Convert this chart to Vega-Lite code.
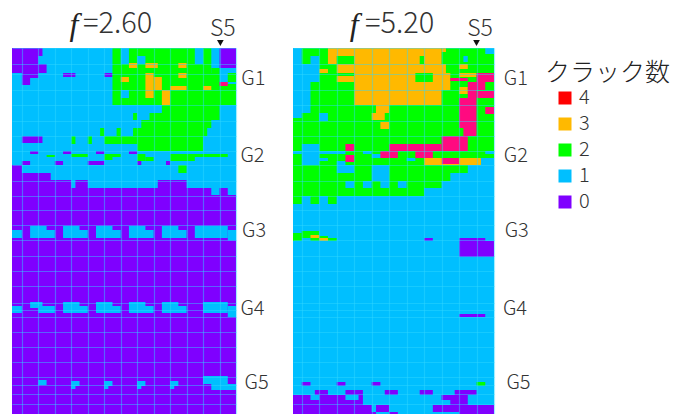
{"$schema":"https://vega.github.io/schema/vega-lite/v6.json","padding":{"left":12,"top":9,"right":0,"bottom":0},"autosize":{"type":"pad"},"background":"white","spacing":57,"bounds":"flush",
"config":{"view":{"stroke":null},"font":"Noto Sans CJK JP"},
"datasets":{
"L":[
{"c":-0.2,"e":27,"t":0,"b":368,"k":1},
{"c":-0.2,"e":27,"t":147,"b":368,"k":0},{"c":-0.2,"e":24,"t":140,"b":147,"k":0},{"c":25,"e":26,"t":140,"b":147,"k":0},{"c":-0.2,"e":7,"t":132,"b":140,"k":0},{"c":7.5,"e":9,"t":132,"b":140,"k":0},{"c":17.5,"e":21,"t":132,"b":140,"k":0},{"c":-0.2,"e":4.5,"t":125,"b":132,"k":0},{"c":-0.2,"e":1,"t":117,"b":125,"k":0},
{"c":-0.2,"e":3.5,"t":0,"b":8,"k":0},{"c":-0.2,"e":3,"t":8,"b":16,"k":0},{"c":-0.2,"e":4,"t":16,"b":25,"k":0},{"c":1,"e":3,"t":25,"b":30,"k":0},{"c":1,"e":2,"t":30,"b":37,"k":0},{"c":6,"e":7.5,"t":25,"b":29,"k":0},{"c":11,"e":12,"t":25,"b":29,"k":0},{"c":25,"e":27,"t":0,"b":20,"k":0},
{"c":1,"e":3.5,"t":88,"b":95,"k":0},{"c":2,"e":3,"t":103,"b":106,"k":0},{"c":6,"e":7,"t":103,"b":106,"k":0},{"c":10,"e":11,"t":103,"b":106,"k":0},{"c":14,"e":15,"t":103,"b":106,"k":0},{"c":1,"e":2,"t":113,"b":117,"k":0},{"c":5,"e":6,"t":113,"b":117,"k":0},{"c":9,"e":11,"t":113,"b":117,"k":0},{"c":15,"e":15.5,"t":113,"b":117,"k":0},{"c":18.5,"e":19,"t":113,"b":117,"k":0},
{"c":12,"e":13,"t":0,"b":16,"k":2},{"c":14,"e":22,"t":0,"b":8,"k":2},{"c":23,"e":24,"t":0,"b":16,"k":2},{"c":14,"e":15,"t":8,"b":16,"k":2},{"c":16,"e":22,"t":8,"b":16,"k":2},{"c":12,"e":24,"t":16,"b":25,"k":2},{"c":24,"e":25,"t":20,"b":25,"k":2},{"c":12,"e":25,"t":25,"b":42,"k":2},{"c":26,"e":27,"t":25,"b":34,"k":2},{"c":25,"e":27,"t":36,"b":42,"k":2},{"c":12,"e":13,"t":42,"b":57,"k":2},{"c":14,"e":27,"t":42,"b":57,"k":2},{"c":13,"e":14,"t":50,"b":57,"k":2},
{"c":18,"e":25,"t":57,"b":65,"k":2},{"c":16.5,"e":25,"t":65,"b":72,"k":2},{"c":14.5,"e":15,"t":65,"b":72,"k":2},{"c":15.5,"e":24,"t":72,"b":80,"k":2},{"c":14.5,"e":23.5,"t":80,"b":88,"k":2},{"c":10.5,"e":11,"t":80,"b":88,"k":2},{"c":12.5,"e":13,"t":80,"b":88,"k":2},{"c":11,"e":23,"t":88,"b":96,"k":2},{"c":15,"e":23,"t":96,"b":103,"k":2},{"c":7,"e":7.5,"t":88,"b":96,"k":2},{"c":9,"e":9.5,"t":88,"b":96,"k":2},
{"c":7,"e":9,"t":106,"b":109,"k":2},{"c":4,"e":5,"t":107,"b":109,"k":2},{"c":11,"e":13,"t":106,"b":109,"k":2},{"c":11,"e":12,"t":109,"b":112,"k":2},{"c":15,"e":16,"t":106,"b":113,"k":2},{"c":16,"e":17,"t":109,"b":113,"k":2},{"c":19,"e":26,"t":106,"b":109,"k":2},{"c":19,"e":22,"t":109,"b":113,"k":2},{"c":20,"e":21,"t":117,"b":125,"k":2},
{"c":14,"e":15,"t":15,"b":20,"k":3},{"c":16,"e":17.5,"t":15,"b":20,"k":3},{"c":20,"e":21,"t":15,"b":20,"k":3},{"c":20,"e":21,"t":25,"b":30,"k":3},{"c":13,"e":14,"t":29,"b":34,"k":3},{"c":16,"e":17,"t":25,"b":50,"k":3},{"c":17,"e":18,"t":29,"b":42,"k":3},{"c":18,"e":19,"t":42,"b":57,"k":3},{"c":19,"e":21,"t":38,"b":42,"k":3},{"c":23,"e":24,"t":38,"b":42,"k":3},{"c":25,"e":26,"t":34,"b":38,"k":5},
{"c":-0.2,"e":1,"t":182,"b":190,"k":1},{"c":2,"e":4,"t":178,"b":182,"k":1},{"c":2,"e":5,"t":182,"b":190,"k":1},{"c":6,"e":8,"t":178,"b":182,"k":1},{"c":6,"e":9,"t":182,"b":190,"k":1},{"c":10,"e":12,"t":178,"b":182,"k":1},{"c":10,"e":13,"t":182,"b":190,"k":1},{"c":14,"e":16,"t":178,"b":182,"k":1},{"c":14,"e":17,"t":182,"b":190,"k":1},{"c":18,"e":20,"t":178,"b":182,"k":1},{"c":18,"e":21,"t":182,"b":190,"k":1},{"c":22,"e":26,"t":178,"b":190,"k":1},{"c":26,"e":27,"t":182,"b":192.5,"k":1},
{"c":-0.2,"e":1,"t":258,"b":265,"k":1},{"c":2,"e":3.5,"t":254,"b":258,"k":1},{"c":3,"e":5,"t":258,"b":265,"k":1},{"c":2,"e":3,"t":258,"b":260,"k":1},{"c":6,"e":8,"t":254,"b":258,"k":1},{"c":6,"e":9,"t":258,"b":265,"k":1},{"c":10,"e":12,"t":254,"b":258,"k":1},{"c":10,"e":13,"t":258,"b":265,"k":1},{"c":14,"e":16,"t":254,"b":258,"k":1},{"c":14,"e":17,"t":258,"b":265,"k":1},{"c":18,"e":20,"t":254,"b":258,"k":1},{"c":18,"e":21,"t":258,"b":265,"k":1},{"c":23,"e":26,"t":254,"b":265,"k":1},{"c":26,"e":27,"t":258,"b":269,"k":1},
{"c":3,"e":4,"t":332,"b":337,"k":1},{"c":7,"e":8,"t":333,"b":338,"k":1},{"c":7,"e":7.5,"t":338,"b":341,"k":1},{"c":11,"e":12,"t":333,"b":338,"k":1},{"c":11,"e":11.5,"t":338,"b":341,"k":1},{"c":15,"e":16,"t":333,"b":338,"k":1},{"c":15,"e":15.5,"t":338,"b":341,"k":1},{"c":19,"e":20,"t":333,"b":338,"k":1},{"c":19,"e":19.5,"t":338,"b":341,"k":1},{"c":23,"e":26,"t":328,"b":336,"k":1},{"c":24,"e":27,"t":336,"b":342,"k":1}
],
"R":[
{"c":0,"e":23,"t":0,"b":368,"k":1},
{"c":0,"e":23,"t":0,"b":117,"k":2},
{"c":0,"e":1,"t":0,"b":25,"k":1},{"c":22,"e":23,"t":0,"b":6,"k":1},{"c":2,"e":3,"t":8,"b":16,"k":1},{"c":0,"e":3,"t":16,"b":34,"k":1},{"c":0,"e":2,"t":34,"b":65,"k":1},{"c":0,"e":1,"t":65,"b":70,"k":1},{"c":3,"e":4,"t":65,"b":73,"k":1},{"c":19.5,"e":20,"t":8,"b":14,"k":1},
{"c":1,"e":3,"t":96,"b":117,"k":1},{"c":0,"e":1,"t":103,"b":106,"k":1},{"c":3,"e":6,"t":103,"b":106,"k":1},{"c":8,"e":9,"t":103,"b":106,"k":1},{"c":9,"e":11,"t":106,"b":110,"k":1},{"c":13,"e":14,"t":110,"b":113,"k":1},{"c":22,"e":23,"t":103,"b":106,"k":1},{"c":21.5,"e":23,"t":110,"b":117,"k":1},{"c":3,"e":4,"t":110,"b":113,"k":1},{"c":5,"e":6,"t":113,"b":117,"k":1},
{"c":0,"e":23,"t":117,"b":125,"k":2},{"c":0,"e":18,"t":125,"b":133,"k":2},{"c":0,"e":17,"t":133,"b":140,"k":2},{"c":0,"e":15,"t":140,"b":148,"k":2},{"c":0,"e":1,"t":148,"b":156,"k":2},{"c":2,"e":3,"t":148,"b":156,"k":2},{"c":4,"e":5,"t":148,"b":156,"k":2},
{"c":20,"e":23,"t":117,"b":125,"k":1},{"c":5,"e":7,"t":117,"b":125,"k":1},{"c":9,"e":11,"t":117,"b":133,"k":1},{"c":6,"e":7,"t":133,"b":140,"k":1},{"c":8,"e":9,"t":133,"b":140,"k":1},{"c":10,"e":11,"t":133,"b":140,"k":1},{"c":12,"e":13,"t":133,"b":140,"k":1},
{"c":4,"e":17,"t":0,"b":8,"k":3},{"c":17,"e":17.5,"t":0,"b":4,"k":3},{"c":4,"e":5,"t":8,"b":16,"k":3},{"c":7,"e":14.5,"t":8,"b":16,"k":3},{"c":15,"e":17,"t":8,"b":16,"k":3},{"c":3,"e":4,"t":21,"b":25,"k":3},{"c":5,"e":17.5,"t":16,"b":25,"k":3},{"c":19,"e":20,"t":16,"b":21,"k":3},{"c":5,"e":7,"t":28,"b":34,"k":3},{"c":7,"e":14,"t":25,"b":34,"k":3},{"c":16,"e":18,"t":25,"b":34,"k":3},{"c":7,"e":18,"t":34,"b":42,"k":3},{"c":7,"e":17,"t":42,"b":57,"k":3},{"c":9.5,"e":11,"t":57,"b":65,"k":3},{"c":9,"e":10.5,"t":65,"b":72,"k":3},{"c":10,"e":11,"t":74,"b":81,"k":3},{"c":19,"e":21,"t":25,"b":29,"k":3},{"c":19,"e":20,"t":39,"b":46,"k":3},
{"c":18,"e":20,"t":30,"b":33,"k":5},{"c":21,"e":23,"t":25,"b":34,"k":5},{"c":20,"e":22,"t":34,"b":42,"k":5},{"c":20,"e":21,"t":42,"b":50,"k":5},{"c":21,"e":23,"t":43,"b":50,"k":5},{"c":19,"e":21,"t":50,"b":80,"k":5},{"c":22,"e":23,"t":59,"b":66,"k":5},{"c":19.5,"e":21,"t":80,"b":88,"k":5},{"c":17,"e":20,"t":88,"b":103,"k":5},{"c":6,"e":7,"t":96,"b":103,"k":5},{"c":11,"e":17,"t":96,"b":103,"k":5},{"c":10,"e":12,"t":103,"b":110,"k":5},{"c":14,"e":16,"t":103,"b":110,"k":5},{"c":6,"e":7,"t":107,"b":114,"k":5},
{"c":15,"e":21.5,"t":110,"b":117,"k":3},{"c":15,"e":16,"t":110,"b":113,"k":3},{"c":17,"e":19,"t":110,"b":116,"k":5},{"c":16,"e":17,"t":110,"b":117,"k":3},{"c":19,"e":21,"t":110,"b":117,"k":3},
{"c":0,"e":1,"t":185,"b":193,"k":2},{"c":1,"e":3,"t":183,"b":190,"k":2},{"c":2,"e":4,"t":190,"b":193,"k":2},{"c":3,"e":4,"t":188,"b":190,"k":2},{"c":4,"e":5,"t":190,"b":193,"k":2},{"c":2,"e":3,"t":187,"b":190,"k":3},{"c":3,"e":4,"t":190,"b":193,"k":3},
{"c":15,"e":16,"t":190,"b":193,"k":0},{"c":19,"e":22,"t":190,"b":193,"k":0},{"c":19,"e":23,"t":193,"b":209,"k":0},{"c":19,"e":22,"t":266,"b":269,"k":0},
{"c":1,"e":2,"t":334,"b":338,"k":0},{"c":5,"e":6,"t":334,"b":338,"k":0},{"c":9,"e":10,"t":334,"b":338,"k":0},{"c":21,"e":22,"t":334,"b":338,"k":2},
{"c":2.5,"e":4,"t":342,"b":347,"k":0},{"c":6,"e":8,"t":342,"b":347,"k":0},{"c":10.5,"e":12,"t":342,"b":347,"k":0},{"c":14.5,"e":16,"t":342,"b":347,"k":0},{"c":18.5,"e":21,"t":342,"b":347,"k":0},
{"c":0,"e":2,"t":347,"b":352,"k":0},{"c":3,"e":6,"t":347,"b":352,"k":0},{"c":7.5,"e":8,"t":347,"b":352,"k":0},{"c":17,"e":20,"t":347,"b":352,"k":0},{"c":0,"e":8,"t":352,"b":357,"k":0},{"c":18,"e":20,"t":352,"b":357,"k":0},{"c":0,"e":9,"t":357,"b":364,"k":0},{"c":9.5,"e":11,"t":357,"b":364,"k":0},{"c":16,"e":23,"t":357,"b":364,"k":0},{"c":0,"e":9.5,"t":364,"b":368,"k":0},{"c":11,"e":12,"t":364,"b":368,"k":0},{"c":19,"e":23,"t":364,"b":368,"k":0}
],
"LT":[{"x":29.1,"y":31,"s":"G1"},{"x":29,"y":108,"s":"G2"},{"x":29.2,"y":183,"s":"G3"},{"x":29,"y":261,"s":"G4"},{"x":29.5,"y":335,"s":"G5"}],
"RT":[{"x":25.5,"y":31,"s":"G1"},{"x":25.5,"y":108,"s":"G2"},{"x":25.6,"y":183,"s":"G3"},{"x":25.4,"y":261,"s":"G4"},{"x":25.8,"y":335,"s":"G5"}]
},
"hconcat":[
{"width":224,"height":368,"layer":[
{"data":{"name":"L"},"mark":{"type":"rect"},"encoding":{
"x":{"field":"c","type":"quantitative","scale":{"domain":[-0.2,27],"nice":false,"zero":false},"axis":{"title":null,"labels":false,"ticks":false,"domain":false,"grid":true,"zindex":1,"gridColor":"#30d8ff","gridOpacity":0.45,"gridWidth":1.2,"tickCount":100,"values":[1,3,5,7,9,11,13,15,17,19,21,23,25,27]}},
"x2":{"field":"e"},
"y":{"field":"t","type":"quantitative","scale":{"domain":[0,368],"reverse":true,"nice":false,"zero":false},"axis":{"title":null,"labels":false,"ticks":false,"domain":false,"grid":true,"zindex":1,"gridColor":"#30d8ff","gridOpacity":0.45,"gridWidth":1.2,"tickCount":100,"values":[0,16,26,42,57,73,88,103,117,133,148,162,177,192,208,223,238,255,262,269,284,299,314,329,337,346,356]}},
"y2":{"field":"b"},
"color":{"field":"k","type":"ordinal","scale":{"domain":[4,3,2,1,0,5],"range":["#ff0000","#ffb900","#00ff00","#00bfff","#7f00ff","#ff0a80"]},"legend":{"orient":"none","legendX":533,"legendY":13,"title":"クラック数","titleFontSize":25,"titleFontWeight":300,"titleColor":"#222222","titleFont":"Noto Sans CJK JP","titlePadding":2,"values":[4,3,2,1,0],"symbolType":"square","symbolSize":169,"symbolStrokeWidth":0,"symbolOffset":10,"labelFontSize":20,"labelFontWeight":300,"labelColor":"#333333","labelOffset":4,"rowPadding":6,"padding":0}}
}},
{"data":{"name":"LT"},"mark":{"type":"text","fontSize":20,"fontWeight":300,"color":"#333333","align":"center","baseline":"middle"},"encoding":{"x":{"field":"x","type":"quantitative"},"y":{"field":"y","type":"quantitative"},"text":{"field":"s"}}},
{"data":{"values":[{"x":25.4,"y":-19,"s":"S5"}]},"mark":{"type":"text","fontSize":23,"fontWeight":300,"color":"#333333","align":"center","baseline":"middle"},"encoding":{"x":{"field":"x","type":"quantitative"},"y":{"field":"y","type":"quantitative"},"text":{"field":"s"}}},
{"data":{"values":[{"x":25.1,"y":-5}]},"mark":{"type":"point","shape":"triangle-down","filled":true,"color":"#111111","size":45,"opacity":1},"encoding":{"x":{"field":"x","type":"quantitative"},"y":{"field":"y","type":"quantitative"}}},
{"data":{"values":[{"x":7.33,"y":-23,"s":"f"}]},"mark":{"type":"text","font":"Liberation Serif","fontStyle":"italic","fontSize":32,"color":"#222222","align":"center","baseline":"middle"},"encoding":{"x":{"field":"x","type":"quantitative"},"y":{"field":"y","type":"quantitative"},"text":{"field":"s"}}},
{"data":{"values":[{"x":8.42,"y":-24,"s":"=2.60"}]},"mark":{"type":"text","fontSize":29,"fontWeight":300,"color":"#333333","align":"left","baseline":"middle"},"encoding":{"x":{"field":"x","type":"quantitative"},"y":{"field":"y","type":"quantitative"},"text":{"field":"s"}}}
]},
{"width":201,"height":368,"layer":[
{"data":{"name":"R"},"mark":{"type":"rect"},"encoding":{
"x":{"field":"c","type":"quantitative","scale":{"domain":[0,23],"nice":false,"zero":false},"axis":{"title":null,"labels":false,"ticks":false,"domain":false,"grid":true,"zindex":1,"gridColor":"#30d8ff","gridOpacity":0.45,"gridWidth":1.2,"tickCount":100,"values":[1,3,5,7,9,11,13,15,17,19,21,23]}},
"x2":{"field":"e"},
"y":{"field":"t","type":"quantitative","scale":{"domain":[0,368],"reverse":true,"nice":false,"zero":false},"axis":{"title":null,"labels":false,"ticks":false,"domain":false,"grid":true,"zindex":1,"gridColor":"#30d8ff","gridOpacity":0.45,"gridWidth":1.2,"tickCount":100,"values":[0,16,26,42,57,73,88,103,117,133,148,162,177,192,208,223,238,255,262,269,284,299,314,329,337,346,356]}},
"y2":{"field":"b"},
"color":{"field":"k","type":"ordinal","scale":{"domain":[4,3,2,1,0,5],"range":["#ff0000","#ffb900","#00ff00","#00bfff","#7f00ff","#ff0a80"]},"legend":null}
}},
{"data":{"name":"RT"},"mark":{"type":"text","fontSize":20,"fontWeight":300,"color":"#333333","align":"center","baseline":"middle"},"encoding":{"x":{"field":"x","type":"quantitative"},"y":{"field":"y","type":"quantitative"},"text":{"field":"s"}}},
{"data":{"values":[{"x":21.4,"y":-19,"s":"S5"}]},"mark":{"type":"text","fontSize":23,"fontWeight":300,"color":"#333333","align":"center","baseline":"middle"},"encoding":{"x":{"field":"x","type":"quantitative"},"y":{"field":"y","type":"quantitative"},"text":{"field":"s"}}},
{"data":{"values":[{"x":21,"y":-5}]},"mark":{"type":"point","shape":"triangle-down","filled":true,"color":"#111111","size":45,"opacity":1},"encoding":{"x":{"field":"x","type":"quantitative"},"y":{"field":"y","type":"quantitative"}}},
{"data":{"values":[{"x":7,"y":-23,"s":"f"}]},"mark":{"type":"text","font":"Liberation Serif","fontStyle":"italic","fontSize":32,"color":"#222222","align":"center","baseline":"middle"},"encoding":{"x":{"field":"x","type":"quantitative"},"y":{"field":"y","type":"quantitative"},"text":{"field":"s"}}},
{"data":{"values":[{"x":8.24,"y":-24,"s":"=5.20"}]},"mark":{"type":"text","fontSize":29,"fontWeight":300,"color":"#333333","align":"left","baseline":"middle"},"encoding":{"x":{"field":"x","type":"quantitative"},"y":{"field":"y","type":"quantitative"},"text":{"field":"s"}}}
]}
]}
